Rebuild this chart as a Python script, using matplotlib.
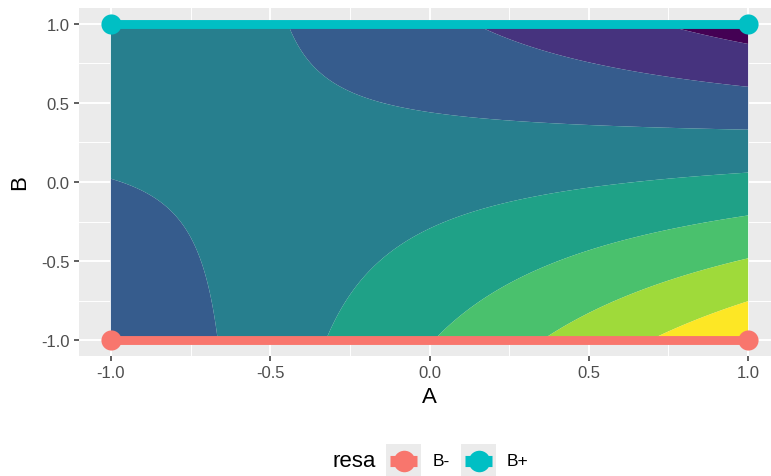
import numpy as np
import matplotlib
matplotlib.use("Agg")
import matplotlib.pyplot as plt
from matplotlib.patches import Rectangle
from matplotlib.lines import Line2D

# Response-surface model z = c + a*A + b*B + d*A*B
coef_c = 0.60
coef_a = 0.62
coef_b = -1.36
coef_d = -2.33
levels = [-3, -2, -1, 0, 1, 2, 3, 4, 5]
band_colors = ["#440154", "#46337E", "#365C8D", "#277F8E",
               "#1FA187", "#4AC16D", "#9FDA3A", "#FDE725"]

# Lines at the two B settings
A_ends = [-1.0, 1.0]
resa_labels = ["B-", "B+"]
resa_B = [-1.0, 1.0]
resa_colors = ["#F8766D", "#00BFC4"]

ticks = [-1.0, -0.5, 0.0, 0.5, 1.0]
tick_labels = ["-1.0", "-0.5", "0.0", "0.5", "1.0"]
minor_ticks = [-0.75, -0.25, 0.25, 0.75]

plt.rcParams['font.family'] = ['Liberation Sans', 'DejaVu Sans']

W, H = 771, 477
fig = plt.figure(figsize=(W / 100, H / 100), dpi=100)
fig.patch.set_facecolor("white")

def fx(px):
    return px / W

def fy(py):
    return 1 - py / H

ax = fig.add_axes([fx(79), fy(357), fx(780) - fx(79), fy(9) - fy(357)])
ax.set_facecolor("#EBEBEB")

g = np.linspace(-1, 1, 301)
AA, BB = np.meshgrid(g, g)
ZZ = coef_c + coef_a * AA + coef_b * BB + coef_d * AA * BB
ax.contourf(AA, BB, ZZ, levels=levels, colors=band_colors, zorder=2, antialiased=True)

for lab, bval, col in zip(resa_labels, resa_B, resa_colors):
    ax.plot(A_ends, [bval, bval], color=col, lw=6.4, solid_capstyle="butt",
            marker="o", markersize=14.5, markeredgewidth=0, zorder=4)

ax.set_xlim(-1.1, 1.1)
ax.set_ylim(-1.1, 1.1)
ax.set_xticks(ticks)
ax.set_xticklabels(tick_labels)
ax.set_yticks(ticks)
ax.set_yticklabels(tick_labels)
ax.set_xticks(minor_ticks, minor=True)
ax.set_yticks(minor_ticks, minor=True)
ax.grid(which="major", color="white", lw=1.4, zorder=0)
ax.grid(which="minor", color="white", lw=0.7, zorder=0)
ax.set_axisbelow(True)
ax.tick_params(which="major", length=3.8, width=1.1, color="#333333",
               labelsize=12, labelcolor="#4D4D4D", pad=3)
ax.tick_params(which="minor", length=0)
for s in ax.spines.values():
    s.set_visible(False)
ax.set_xlabel("A", fontsize=16, labelpad=4)
ax.set_ylabel("B", fontsize=16, labelpad=8)

# Legend (manual, ggplot-like, bottom)
fig.text(fx(332), fy(462), "resa", fontsize=16, ha="left", va="center")
key_x = [386, 461]
lab_x = [433, 507]
for kx, lx, lab, col in zip(key_x, lab_x, resa_labels, resa_colors):
    fig.add_artist(Rectangle((fx(kx), fy(478)), fx(35), fy(445) - fy(478),
                             transform=fig.transFigure, facecolor="#EBEBEB",
                             edgecolor="none"))
    fig.add_artist(Line2D([fx(kx + 4), fx(kx + 31)], [fy(462), fy(462)],
                          transform=fig.transFigure, color=col, lw=8,
                          solid_capstyle="butt"))
    fig.add_artist(Line2D([fx(kx + 17.5)], [fy(462)], transform=fig.transFigure,
                          color=col, marker="o", markersize=15.5, markeredgewidth=0))
    fig.text(fx(lx), fy(462), lab, fontsize=12.5, ha="left", va="center")

fig.savefig("out.png", dpi=100)
